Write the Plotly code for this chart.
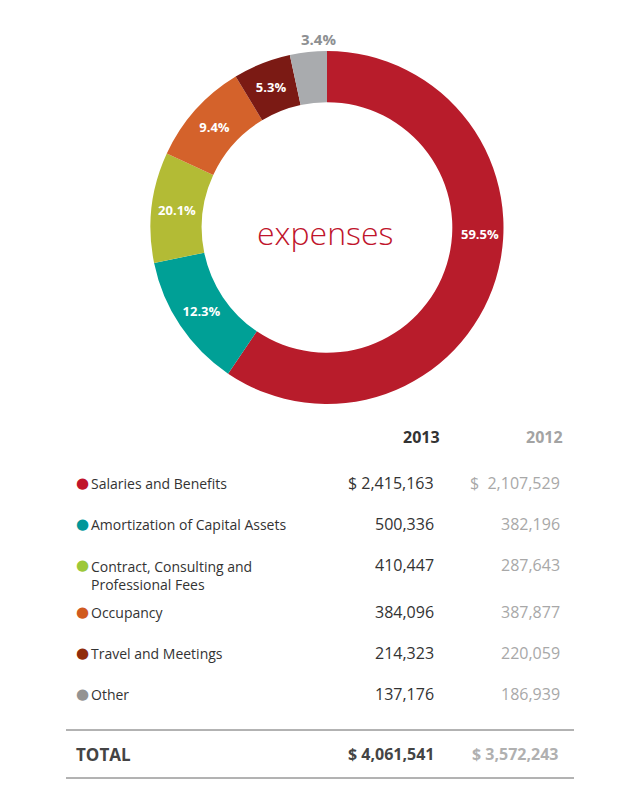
import plotly.graph_objects as go

W, H = 640, 786
OFF = 8  # page body margin

categories = ["Salaries and Benefits", "Amortization of Capital Assets",
              "Contract, Consulting and<br>Professional Fees", "Occupancy",
              "Travel and Meetings", "Other"]
values_2013 = [2415163, 500336, 410447, 384096, 214323, 137176]
values_2012 = [2107529, 382196, 287643, 387877, 220059, 186939]
pct_labels = ["59.5%", "12.3%", "20.1%", "9.4%", "5.3%", "3.4%"]
total_2013 = "$ 4,061,541"
total_2012 = "$ 3,572,243"
labels_2013 = ["$ 2,415,163", "500,336", "410,447", "384,096", "214,323", "137,176"]
labels_2012 = ["$  2,107,529", "382,196", "287,643", "387,877", "220,059", "186,939"]

slice_colors = ["#b81c2b", "#00a096", "#b3bb35", "#d4622b", "#7b1a14", "#a9abae"]
dot_colors = ["#c0142b", "#00979a", "#9cc83a", "#d05a1f", "#8f2c0c", "#939393"]


def py(ypx):
    return 1 - (ypx - OFF) / H


def px(xpx):
    return (xpx - OFF) / W


fig = go.Figure()
fig.add_trace(go.Pie(
    values=values_2013,
    labels=[c.replace("<br>", " ") for c in categories],
    text=[t if 0 < i < 5 else "" for i, t in enumerate(pct_labels)],
    textinfo="text",
    textposition="inside",
    insidetextorientation="horizontal",
    textfont=dict(family="Open Sans", size=13, color="white", weight="bold"),
    hole=0.71,
    sort=False,
    direction="clockwise",
    rotation=0,
    marker=dict(colors=slice_colors, line=dict(width=0)),
    domain=dict(x=[px(150), px(504)], y=[py(404), py(51)]),
    showlegend=False,
    hoverinfo="label+value",
))

ann = []
ann.append(dict(x=px(480), y=py(234), text=pct_labels[0], showarrow=False,
                font=dict(family="Open Sans", size=13, color="white", weight="bold"),
                xanchor="center", yanchor="middle"))
ann.append(dict(x=px(318), y=py(39), text=pct_labels[5], showarrow=False,
                font=dict(family="Open Sans", size=15, color="#8d8f92", weight="bold"),
                xanchor="center", yanchor="middle"))
ann.append(dict(x=px(325), y=py(233), text="expenses", showarrow=False,
                font=dict(family="Open Sans", size=32, color="#c0142b", weight=300),
                xanchor="center", yanchor="middle"))

# header
ann.append(dict(x=px(442), y=py(437), text="2013", showarrow=False, xanchor="right",
                yanchor="middle",
                font=dict(family="Open Sans", size=16, color="#333333", weight="bold")))
ann.append(dict(x=px(565), y=py(437), text="2012", showarrow=False, xanchor="right",
                yanchor="middle",
                font=dict(family="Open Sans", size=16, color="#a3a3a3", weight="bold")))

value_y = [483, 524, 565, 612, 653, 694]
label_y = [483, 524, 565, 612, 653, 694]
for i, cat in enumerate(categories):
    ann.append(dict(x=px(74), y=py(label_y[i]), text="●", showarrow=False,
                    xanchor="left", yanchor="middle",
                    font=dict(family="DejaVu Sans", size=15, color=dot_colors[i])))
    ann.append(dict(x=px(89), y=py(label_y[i]), text=cat, showarrow=False,
                    xanchor="left", yanchor="top" if "<br>" in cat else "middle",
                    yshift=10 if "<br>" in cat else 0, align="left",
                    font=dict(family="Open Sans", size=14, color="#333333")))
    ann.append(dict(x=px(436), y=py(value_y[i]), text=labels_2013[i], showarrow=False,
                    xanchor="right", yanchor="middle",
                    font=dict(family="Open Sans", size=16, color="#333333")))
    ann.append(dict(x=px(562), y=py(value_y[i]), text=labels_2012[i], showarrow=False,
                    xanchor="right", yanchor="middle",
                    font=dict(family="Open Sans", size=16, color="#a8a8a8")))

ann.append(dict(x=px(74), y=py(754), text="TOTAL", showarrow=False, xanchor="left",
                yanchor="middle",
                font=dict(family="Open Sans", size=17, color="#444444", weight="bold")))
ann.append(dict(x=px(436), y=py(754), text=total_2013, showarrow=False, xanchor="right",
                yanchor="middle",
                font=dict(family="Open Sans", size=16, color="#444444", weight="bold")))
ann.append(dict(x=px(560), y=py(754), text=total_2012, showarrow=False, xanchor="right",
                yanchor="middle",
                font=dict(family="Open Sans", size=16, color="#b0b0b0", weight="bold")))

shapes = [
    dict(type="line", xref="paper", yref="paper", x0=px(66), x1=px(574),
         y0=py(730), y1=py(730), line=dict(color="#666666", width=1)),
    dict(type="line", xref="paper", yref="paper", x0=px(66), x1=px(574),
         y0=py(778), y1=py(778), line=dict(color="#666666", width=1)),
]

fig.update_layout(
    width=W, height=H,
    margin=dict(l=0, r=0, t=0, b=0),
    paper_bgcolor="white", plot_bgcolor="white",
    annotations=ann, shapes=shapes,
)

fig.write_html("out.html")
